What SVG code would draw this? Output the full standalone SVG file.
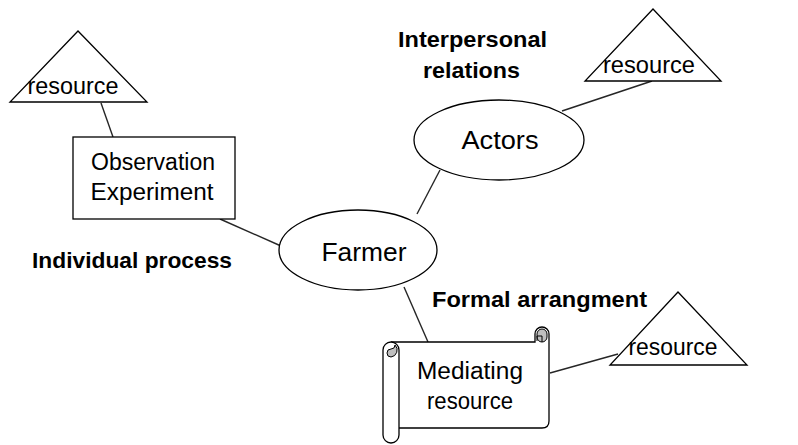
<svg xmlns="http://www.w3.org/2000/svg" width="798" height="445" viewBox="0 0 798 445">
  <style>
    .shape { fill: #ffffff; stroke: #000000; stroke-width: 1.3; }
    .conn { stroke: #262626; stroke-width: 1.4; fill: none; }
    .t { font-family: "Liberation Sans", Arial, sans-serif; font-size: 23px; fill: #000000; text-anchor: middle; }
    .big { font-size: 26px; }
    .lbl { font-family: "Liberation Sans", Arial, sans-serif; font-size: 22px; font-weight: bold; fill: #000000; }
    .roll { fill: #bfbfbf; stroke: #000000; stroke-width: 1; }
  </style>
  <rect x="0" y="0" width="798" height="445" fill="#ffffff"/>

  <g id="connectors">
    <line class="conn" x1="101" y1="103" x2="113" y2="137"/>
    <line class="conn" x1="220" y1="219" x2="281" y2="246"/>
    <line class="conn" x1="417" y1="214" x2="440" y2="170"/>
    <line class="conn" x1="562" y1="111" x2="652" y2="81"/>
    <line class="conn" x1="404" y1="287" x2="428" y2="342"/>
    <line class="conn" x1="550" y1="373" x2="618" y2="354"/>
  </g>

  <g id="resource-left">
    <polygon class="shape" points="78,31 10,102 147,102"/>
    <text class="t" x="73" y="94" textLength="91" lengthAdjust="spacingAndGlyphs">resource</text>
  </g>

  <g id="observation-experiment">
    <rect class="shape" x="73" y="137" width="162" height="82"/>
    <text class="t" x="153" y="170" textLength="124" lengthAdjust="spacingAndGlyphs">Observation</text>
    <text class="t" x="152" y="200" textLength="123" lengthAdjust="spacingAndGlyphs">Experiment</text>
  </g>

  <g id="farmer">
    <ellipse class="shape" cx="358" cy="250" rx="79" ry="40"/>
    <text class="t big" x="364" y="261" textLength="85" lengthAdjust="spacingAndGlyphs">Farmer</text>
  </g>

  <g id="actors">
    <ellipse class="shape" cx="499" cy="140" rx="85" ry="40"/>
    <text class="t big" x="500" y="149" textLength="77" lengthAdjust="spacingAndGlyphs">Actors</text>
  </g>

  <g id="resource-top">
    <polygon class="shape" points="653,9 585,81 721,81"/>
    <text class="t" x="649" y="73" textLength="92" lengthAdjust="spacingAndGlyphs">resource</text>
  </g>

  <g id="mediating-resource">
    <path class="shape" d="M391,342 L535,342 L535,334 A7,7 0 0 1 549,334 L549,421 Q549,428 542,428 L399,428"/>
    <path class="shape" d="M383,350 A8,8 0 0 1 399,350 L399,435 A8,8 0 0 1 383,435 Z"/>
    <path class="roll" d="M391,357 A4,4 0 0 1 391,349 A4,4 0 0 0 395,345 A7,7 0 0 1 391,357 Z"/>
    <path class="roll" d="M537,334 A5,5 0 0 1 547,334 L547,337 A5,5 0 0 1 537,337 Z"/>
    <path fill="none" stroke="#000" stroke-width="1" d="M537,341 L537,336 L542,336 L542,342"/>
    <text class="t" x="470" y="379" textLength="106" lengthAdjust="spacingAndGlyphs">Mediating</text>
    <text class="t" x="470" y="409" textLength="86" lengthAdjust="spacingAndGlyphs">resource</text>
  </g>

  <g id="resource-bottom">
    <polygon class="shape" points="678,292 610,365 747,365"/>
    <text class="t" x="673" y="355" textLength="89" lengthAdjust="spacingAndGlyphs">resource</text>
  </g>

  <g id="labels">
    <text class="lbl" x="398" y="47" textLength="149" lengthAdjust="spacingAndGlyphs">Interpersonal</text>
    <text class="lbl" x="423" y="78" textLength="97" lengthAdjust="spacingAndGlyphs">relations</text>
    <text class="lbl" x="32" y="268" textLength="200" lengthAdjust="spacingAndGlyphs">Individual process</text>
    <text class="lbl" x="432" y="307" textLength="215" lengthAdjust="spacingAndGlyphs">Formal arrangment</text>
  </g>
</svg>
